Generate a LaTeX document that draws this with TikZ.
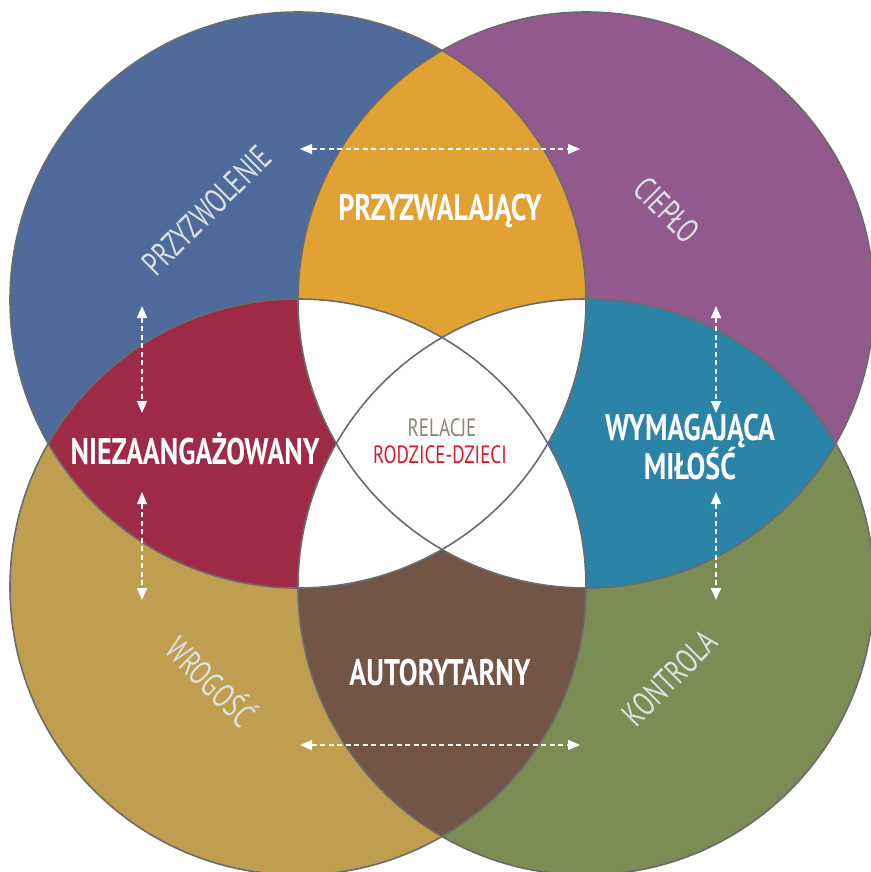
\documentclass[tikz,border=0pt]{standalone}
\usepackage{fontspec}
\usetikzlibrary{arrows.meta}
\newfontfamily\condfont[FakeStretch=0.76]{PT Sans}
\newfontfamily\thinfont[FakeStretch=0.72]{PT Sans}
\newfontfamily\midfont[FakeStretch=0.76]{PT Sans}
\definecolor{cblue}{HTML}{4E6B9B}
\definecolor{cpurple}{HTML}{925A8C}
\definecolor{cgold}{HTML}{C09E50}
\definecolor{cgreen}{HTML}{7B8C54}
\definecolor{corange}{HTML}{E2A133}
\definecolor{cred}{HTML}{9E2A45}
\definecolor{cteal}{HTML}{2B84A8}
\definecolor{cbrown}{HTML}{735546}
\definecolor{cline}{HTML}{6B6B6B}
\definecolor{clabel}{HTML}{DEE2E5}
\definecolor{cgraytext}{HTML}{8E8379}
\definecolor{credtext}{HTML}{D61A2A}
\begin{document}
\begin{tikzpicture}[x=1pt,y=-1pt,
  lens/.style={text=white,font=\condfont\bfseries\fontsize{37}{36}\selectfont,align=center,inner sep=0pt},
  outer/.style={text=clabel,font=\thinfont\fontsize{34}{34}\selectfont,inner sep=0pt},
  centre/.style={font=\midfont\fontsize{25}{25}\selectfont,inner sep=0pt},
  dbl/.style={white,line width=1.4pt,dash pattern=on 5pt off 3.5pt,
    {Triangle[length=12pt,width=10pt]}-{Triangle[length=12pt,width=10pt]}},
  ring/.style={cline,line width=1.6pt}
]
\useasboundingbox (0,0) rectangle (870,872);
\fill[white] (0,0) rectangle (870,872);
\coordinate (TL) at (298,300);
\coordinate (TR) at (586,300);
\coordinate (BL) at (298,587);
\coordinate (BR) at (586,587);
\def\R{288pt}
% single circles
\fill[cblue]   (TL) circle[radius=\R];
\fill[cpurple] (TR) circle[radius=\R];
\fill[cgold]   (BL) circle[radius=\R];
\fill[cgreen]  (BR) circle[radius=\R];
% pair lenses
\begin{scope}\clip (TL) circle[radius=\R]; \fill[corange] (TR) circle[radius=\R];\end{scope}
\begin{scope}\clip (TL) circle[radius=\R]; \fill[cred] (BL) circle[radius=\R];\end{scope}
\begin{scope}\clip (TR) circle[radius=\R]; \fill[cteal] (BR) circle[radius=\R];\end{scope}
\begin{scope}\clip (BL) circle[radius=\R]; \fill[cbrown] (BR) circle[radius=\R];\end{scope}
% triple (and quadruple) intersections
\begin{scope}\clip (TL) circle[radius=\R]; \clip (TR) circle[radius=\R];
  \fill[white] (BL) circle[radius=\R]; \fill[white] (BR) circle[radius=\R];\end{scope}
\begin{scope}\clip (BL) circle[radius=\R]; \clip (BR) circle[radius=\R];
  \fill[white] (TL) circle[radius=\R]; \fill[white] (TR) circle[radius=\R];\end{scope}
% outlines
\draw[ring] (TL) circle[radius=\R];
\draw[ring] (TR) circle[radius=\R];
\draw[ring] (BL) circle[radius=\R];
\draw[ring] (BR) circle[radius=\R];
% lens labels
\node[lens] (perm) at (440,211) {PRZYZWALAJĄCY};
\node[lens] (neg) at (195,449) {NIEZAANGAŻOWANY};
\node[lens] (love) at (690,447) {WYMAGAJĄCA\\[-1pt]MIŁOŚĆ};
\node[lens] (auth) at (440,673) {AUTORYTARNY};
% outer labels
\node[outer,rotate=45] (przyz) at (207,210) {PRZYZWOLENIE};
\node[outer,rotate=-45] (ciep) at (667,210) {CIEPŁO};
\node[outer,rotate=-45] (wrog) at (212,680) {WROGOŚĆ};
\node[outer,rotate=45] (kont) at (670,678) {KONTROLA};
% centre
\node[centre,text=cgraytext] (rel) at (442,428) {RELACJE};
\node[centre,text=credtext] (rd) at (440,455) {RODZICE-DZIECI};
% arrows
\coordinate (a1) at (300,149); \coordinate (a2) at (580,149);
\coordinate (b1) at (300,745); \coordinate (b2) at (580,745);
\coordinate (c1) at (142,306); \coordinate (c2) at (142,413);
\coordinate (c3) at (142,492); \coordinate (c4) at (142,600);
\coordinate (d1) at (716,306); \coordinate (d2) at (716,413);
\coordinate (d3) at (716,492); \coordinate (d4) at (716,600);
\draw[dbl] (a1) -- (a2);
\draw[dbl] (b1) -- (b2);
\draw[dbl] (c1) -- (c2);
\draw[dbl] (c3) -- (c4);
\draw[dbl] (d1) -- (d2);
\draw[dbl] (d3) -- (d4);
\end{tikzpicture}
\end{document}
